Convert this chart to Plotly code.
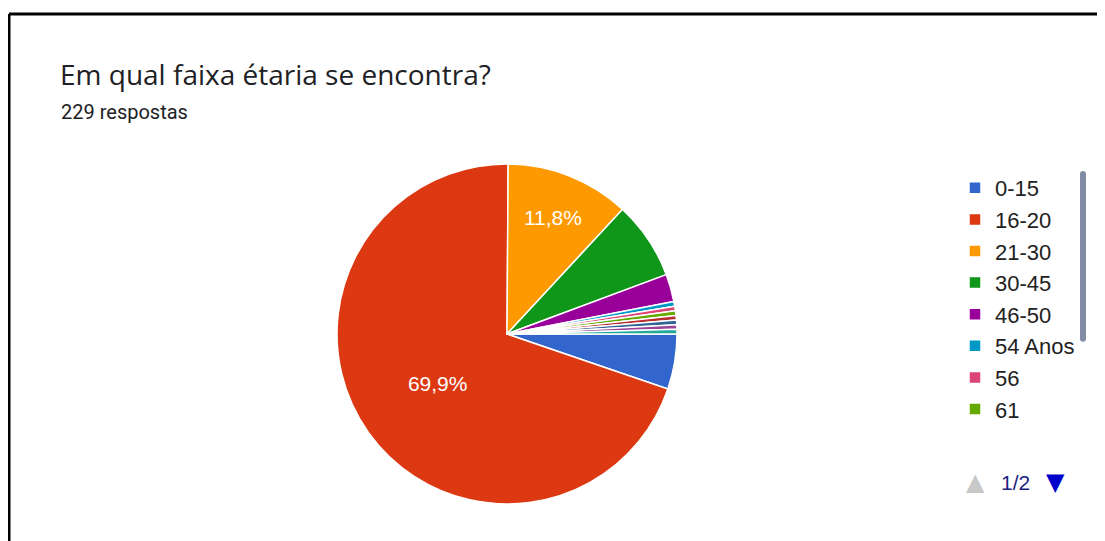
import plotly.graph_objects as go

labels = ["0-15", "16-20", "21-30", "30-45", "46-50", "54 Anos", "56", "61",
          "62", "64", "65", "70"]
values = [12, 160, 27, 17, 6, 1, 1, 1, 1, 1, 1, 1]
colors = ["#3366cc", "#dc3912", "#ff9900", "#109618", "#990099", "#0099c6",
          "#dd4477", "#66aa00", "#b82e2e", "#316395", "#994499", "#22aa99"]

title_text = "Em qual faixa étaria se encontra?"
subtitle_text = "229 respostas"
page_text = "1/2"

total = sum(values)
templates = ["%{percent:.1%}" if v / total > 0.1 else "" for v in values]

# page body has an 8px margin; work in reference pixel coords minus 8
OFF = 8
W, H = 1105 - OFF, 541 - OFF


def px(x):
    return (x - OFF) / W


def py(y):
    return 1 - (y - OFF) / H


cx, cy, r = 507, 334, 170

fig = go.Figure()
fig.add_trace(go.Pie(
    labels=labels,
    values=values,
    sort=False,
    direction="clockwise",
    rotation=90,
    marker=dict(colors=colors, line=dict(color="white", width=1.5)),
    texttemplate=templates,
    textposition="inside",
    insidetextorientation="horizontal",
    insidetextfont=dict(color="white", size=21, family="Liberation Sans"),
    hoverinfo="label+value+percent",
    domain=dict(x=[px(cx - r), px(cx + r)],
                y=[py(cy + r), py(cy - r)]),
))

fig.update_layout(
    width=W, height=H,
    margin=dict(l=0, r=0, t=0, b=0),
    paper_bgcolor="white",
    plot_bgcolor="white",
    separators=",.",
    showlegend=True,
    legend=dict(
        x=px(955), y=py(167), xanchor="left", yanchor="top",
        font=dict(family="Liberation Sans", size=22, color="#222222"),
        maxheight=258,
        bgcolor="rgba(0,0,0,0)",
    ),
    annotations=[
        dict(text=title_text, x=px(58), y=py(74), xref="paper", yref="paper",
             xanchor="left", yanchor="middle", showarrow=False,
             font=dict(family="Open Sans", size=28, color="#202124")),
        dict(text=subtitle_text, x=px(59), y=py(112), xref="paper", yref="paper",
             xanchor="left", yanchor="middle", showarrow=False,
             font=dict(family="Roboto", size=20, color="#202124")),
        dict(text="▲", x=px(975), y=py(482), xref="paper", yref="paper",
             xanchor="center", yanchor="middle", showarrow=False,
             font=dict(family="DejaVu Sans", size=24, color="#c8c8c8")),
        dict(text=page_text, x=px(1015), y=py(482), xref="paper", yref="paper",
             xanchor="center", yanchor="middle", showarrow=False,
             font=dict(family="Liberation Sans", size=21, color="#1a237e")),
        dict(text="▼", x=px(1055), y=py(482), xref="paper", yref="paper",
             xanchor="center", yanchor="middle", showarrow=False,
             font=dict(family="DejaVu Sans", size=24, color="#0000cc")),
    ],
    shapes=[
        dict(type="line", xref="paper", yref="paper", x0=px(9), x1=1, y0=py(14), y1=py(14),
             line=dict(color="black", width=3)),
        dict(type="line", xref="paper", yref="paper", x0=px(9), x1=px(9), y0=0, y1=py(14),
             line=dict(color="black", width=3)),
    ],
)

fig.write_html("out.html")
